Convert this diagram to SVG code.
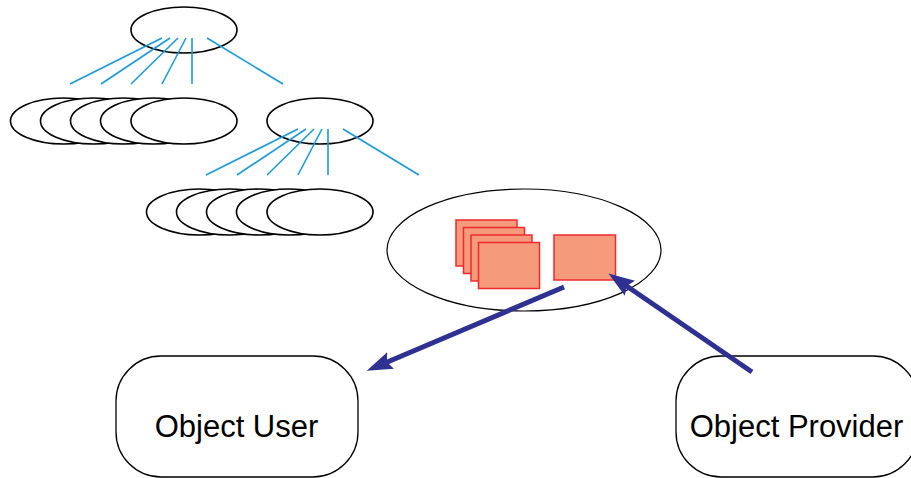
<svg xmlns="http://www.w3.org/2000/svg" width="911" height="478" viewBox="0 0 911 478">
  <style>
    .oval { fill: #ffffff; stroke: #000000; stroke-width: 1.6; }
    .branch { stroke: #1b9ad7; stroke-width: 1.6; fill: none; }
    .item { fill: #f59a7b; stroke: #ee2a2e; stroke-width: 1.5; }
    .flow { stroke: #2e3192; stroke-width: 5; fill: none; }
    .actor { fill: #ffffff; stroke: #000000; stroke-width: 1.3; }
    .label { font-family: "Liberation Sans", Arial, sans-serif; font-size: 31px; fill: #000000; text-anchor: middle; }
  </style>
  <defs>
    <marker id="head" markerUnits="userSpaceOnUse" markerWidth="28" markerHeight="20" refX="8" refY="9" orient="auto" viewBox="0 0 28 18">
      <path d="M0,0 L26,9 L0,18 L4,9 Z" fill="#2e3192"/>
    </marker>
  </defs>

  <!-- root node -->
  <g id="root">
    <ellipse class="oval" cx="184" cy="30" rx="53" ry="23"/>
  </g>

  <!-- first level children (stacked) -->
  <g id="level1-stack">
    <ellipse class="oval" cx="63.5" cy="121" rx="53" ry="23"/>
    <ellipse class="oval" cx="93.5" cy="121" rx="53" ry="23"/>
    <ellipse class="oval" cx="123.5" cy="121" rx="53" ry="23"/>
    <ellipse class="oval" cx="153.5" cy="121" rx="53" ry="23"/>
    <ellipse class="oval" cx="184" cy="121" rx="53" ry="23"/>
  </g>

  <g id="level1-branch">
    <ellipse class="oval" cx="320" cy="121" rx="53" ry="23"/>
  </g>

  <!-- second level children (stacked) -->
  <g id="level2-stack">
    <ellipse class="oval" cx="199.5" cy="212" rx="53" ry="23"/>
    <ellipse class="oval" cx="229.5" cy="212" rx="53" ry="23"/>
    <ellipse class="oval" cx="259.5" cy="212" rx="53" ry="23"/>
    <ellipse class="oval" cx="289.5" cy="212" rx="53" ry="23"/>
    <ellipse class="oval" cx="320" cy="212" rx="53" ry="23"/>
  </g>

  <!-- container holding the objects -->
  <g id="container">
    <ellipse class="oval" cx="524" cy="250" rx="137" ry="61" style="stroke-width:1.2"/>
    <rect class="item" x="456" y="220" width="61" height="46"/>
    <rect class="item" x="463.5" y="227.5" width="61" height="46"/>
    <rect class="item" x="471" y="235" width="61" height="46"/>
    <rect class="item" x="478.5" y="242.5" width="61" height="46"/>
    <rect class="item" x="554" y="235" width="61.5" height="45"/>
  </g>

  <g id="object-user">
    <rect class="actor" x="116" y="356" width="242" height="121" rx="45" ry="45"/>
    <text class="label" x="236.5" y="437">Object User</text>
  </g>

  <g id="object-provider">
    <rect class="actor" x="676" y="356" width="242" height="121" rx="45" ry="45"/>
    <text class="label" x="796.5" y="437">Object Provider</text>
  </g>

  <!-- connectors -->
  <g id="connectors">
    <g id="tree-links">
      <line class="branch" x1="162" y1="38" x2="70" y2="84"/>
      <line class="branch" x1="170" y1="38" x2="101" y2="84"/>
      <line class="branch" x1="178" y1="38" x2="131" y2="84"/>
      <line class="branch" x1="186" y1="38" x2="162" y2="84"/>
      <line class="branch" x1="192" y1="38" x2="192" y2="84"/>
      <line class="branch" x1="207" y1="38" x2="283" y2="84"/>

      <line class="branch" x1="298" y1="129" x2="206" y2="175"/>
      <line class="branch" x1="306" y1="129" x2="237" y2="175"/>
      <line class="branch" x1="314" y1="129" x2="267" y2="175"/>
      <line class="branch" x1="322" y1="129" x2="298" y2="175"/>
      <line class="branch" x1="328" y1="129" x2="328" y2="175"/>
      <line class="branch" x1="343" y1="129" x2="419" y2="175"/>
    </g>
    <line class="flow" x1="564" y1="287" x2="383.3" y2="363.7" marker-end="url(#head)"/>
    <line class="flow" x1="752" y1="372" x2="623.3" y2="283.7" marker-end="url(#head)"/>
  </g>
</svg>
